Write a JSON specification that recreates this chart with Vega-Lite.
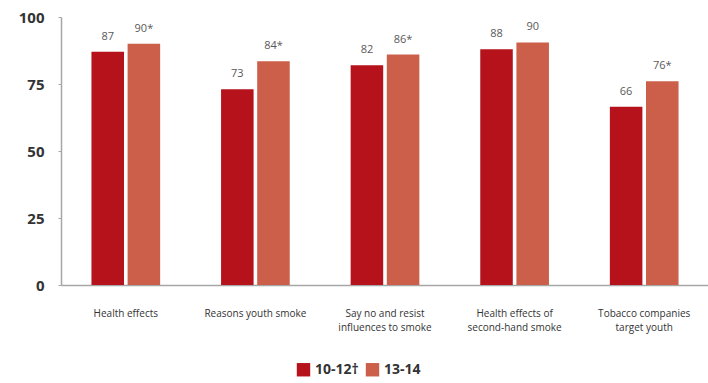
{
  "$schema": "https://vega.github.io/schema/vega-lite/v6.json",
  "width": 648,
  "height": 268,
  "autosize": "none",
  "padding": {"left": 61, "top": 17, "right": 0, "bottom": 98},
  "background": "white",
  "config": {"view": {"stroke": null}, "font": "Open Sans"},
  "data": {"values": [
    {"topic": "Health effects", "grade": "10-12†", "value": 87, "label": "87"},
    {"topic": "Health effects", "grade": "13-14", "value": 90, "label": "90*"},
    {"topic": "Reasons youth smoke", "grade": "10-12†", "value": 73, "label": "73"},
    {"topic": "Reasons youth smoke", "grade": "13-14", "value": 83.5, "label": "84*"},
    {"topic": "Say no and resist|influences to smoke", "grade": "10-12†", "value": 82, "label": "82"},
    {"topic": "Say no and resist|influences to smoke", "grade": "13-14", "value": 86, "label": "86*"},
    {"topic": "Health effects of|second-hand  smoke", "grade": "10-12†", "value": 88, "label": "88"},
    {"topic": "Health effects of|second-hand  smoke", "grade": "13-14", "value": 90.5, "label": "90"},
    {"topic": "Tobacco companies|target youth", "grade": "10-12†", "value": 66.5, "label": "66"},
    {"topic": "Tobacco companies|target youth", "grade": "13-14", "value": 76, "label": "76*"}
  ]},
  "encoding": {
    "x": {
      "field": "topic", "type": "nominal", "sort": null,
      "scale": {"paddingInner": 0.47, "paddingOuter": 0.235},
      "axis": {
        "title": null, "labelAngle": 0, "ticks": false,
        "labelExpr": "split(datum.label, '|')",
        "labelFontSize": 10, "labelColor": "#333333", "labelPadding": 23,
        "labelLineHeight": 14, "domainColor": "#a6a6a6", "domainWidth": 1.5
      }
    },
    "xOffset": {"field": "grade", "type": "nominal", "scale": {"paddingInner": 0.1}},
    "y": {
      "field": "value", "type": "quantitative",
      "scale": {"domain": [0, 100]},
      "axis": {
        "title": null, "values": [0, 25, 50, 75, 100], "grid": false,
        "labelFontSize": 15, "labelFontWeight": "bold", "labelColor": "#333333",
        "labelPadding": 14, "tickSize": 3, "tickColor": "#a6a6a6",
        "domainColor": "#a6a6a6", "domainWidth": 1.5
      }
    }
  },
  "layer": [
    {
      "mark": {"type": "bar"},
      "encoding": {
        "color": {
          "field": "grade", "type": "nominal",
          "scale": {"domain": ["10-12†", "13-14"], "range": ["#B5121B", "#CB5F4A"]},
          "legend": {
            "title": null, "orient": "none", "direction": "horizontal",
            "legendX": 235, "legendY": 345,
            "symbolType": "square", "symbolSize": 180, "symbolOpacity": 1,
            "labelFontSize": 14, "labelFontWeight": "bold", "labelColor": "#333333",
            "columnPadding": 6, "labelOffset": 4
          }
        }
      }
    },
    {
      "mark": {"type": "text", "baseline": "bottom", "dy": -10, "fontSize": 11, "color": "#595959"},
      "encoding": {"text": {"field": "label"}}
    }
  ]
}
